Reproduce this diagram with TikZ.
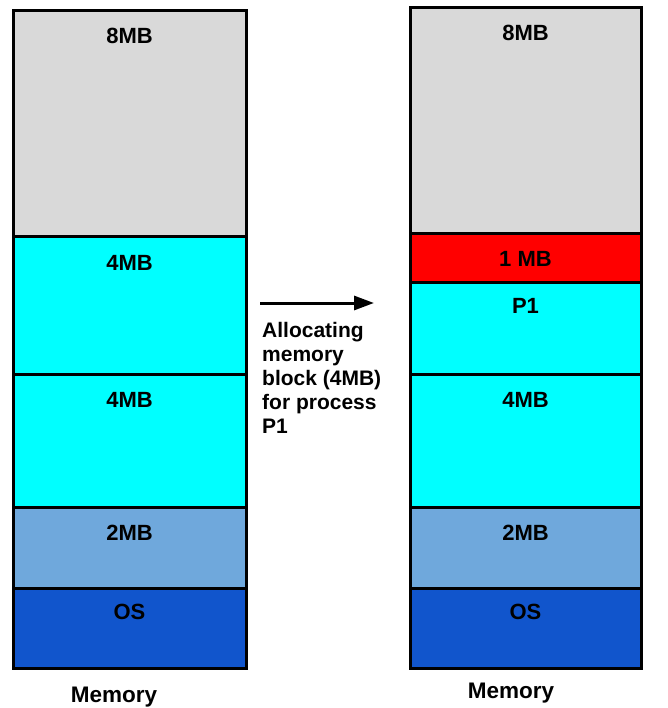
\documentclass[tikz,border=0pt]{standalone}
\usepackage{fontspec}
\setmainfont{Liberation Sans}
\usetikzlibrary{arrows.meta}
\definecolor{cgray}{HTML}{D9D9D9}
\definecolor{ccyan}{HTML}{00FFFF}
\definecolor{clblue}{HTML}{6FA8DC}
\definecolor{cdblue}{HTML}{1155CC}
\definecolor{cred}{HTML}{FF0000}
\begin{document}
\begin{tikzpicture}[x=1pt,y=-1pt,
  blk/.style={draw=black,line width=3pt,anchor=north west,inner sep=0pt,outer sep=0pt},
  lbl/.style={anchor=base,inner sep=0pt,font=\fontsize{22}{26}\selectfont\bfseries},
  capt/.style={anchor=base,inner sep=0pt,font=\fontsize{22.5}{26}\selectfont\bfseries}]
\useasboundingbox (0,0) rectangle (667,708);
% left column
\node[blk,fill=cgray,minimum width=233pt,minimum height=226pt] (l8) at (13,11) {};
\node[blk,fill=ccyan,minimum width=233pt,minimum height=137pt] (l4a) at (13,237) {};
\node[blk,fill=ccyan,minimum width=233pt,minimum height=133pt] (l4b) at (13,374) {};
\node[blk,fill=clblue,minimum width=233pt,minimum height=81pt] (l2) at (13,507) {};
\node[blk,fill=cdblue,minimum width=233pt,minimum height=80pt] (los) at (13,588) {};
\node[lbl] (t-l8) at (129.5,44) {8MB};
\node[lbl] (t-l4a) at (129.5,270) {4MB};
\node[lbl] (t-l4b) at (129.5,407) {4MB};
\node[lbl] (t-l2) at (129.5,540) {2MB};
\node[lbl] (t-los) at (129.5,619) {OS};
\node[capt] (capL) at (114,702) {Memory};
% right column
\node[blk,fill=cgray,minimum width=231pt,minimum height=226pt] (r8) at (410,8) {};
\node[blk,fill=cred,minimum width=231pt,minimum height=48pt] (r1) at (410,234) {};
\node[blk,fill=ccyan,minimum width=231pt,minimum height=92pt] (rp1) at (410,282) {};
\node[blk,fill=ccyan,minimum width=231pt,minimum height=133pt] (r4) at (410,374) {};
\node[blk,fill=clblue,minimum width=231pt,minimum height=81pt] (r2) at (410,507) {};
\node[blk,fill=cdblue,minimum width=231pt,minimum height=80pt] (ros) at (410,588) {};
\node[lbl] (t-r8) at (525.5,41) {8MB};
\node[lbl] (t-r1) at (525.5,266) {1 MB};
\node[lbl] (t-rp1) at (525.5,313) {P1};
\node[lbl] (t-r4) at (525.5,407) {4MB};
\node[lbl] (t-r2) at (525.5,540) {2MB};
\node[lbl] (t-ros) at (525.5,619) {OS};
\node[capt] (capR) at (511,698) {Memory};
% arrow and text
\coordinate (a1) at (260,303);
\coordinate (a2) at (374,303);
\draw[line width=3pt,-{Triangle[length=20pt,width=14pt]}] (a1) -- (a2);
\node[anchor=north west,inner sep=0pt,align=left,font=\fontsize{21}{24}\selectfont\bfseries] (desc) at (262,322.5)
  {Allocating\\memory\\block (4MB)\\for process\\P1};
\end{tikzpicture}
\end{document}
